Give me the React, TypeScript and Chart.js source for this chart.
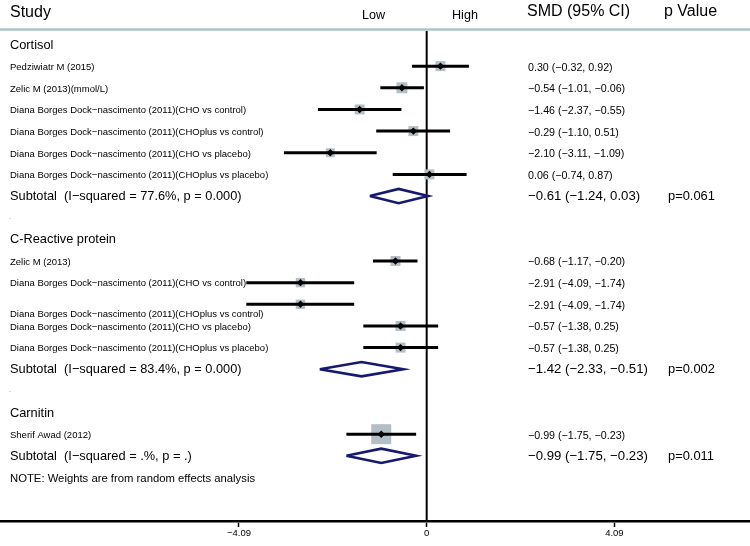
import React, { useEffect, useRef } from "react";
import { Chart, registerables } from "chart.js";

Chart.register(...registerables);

// ---------- data ----------
const groups = ["Cortisol", "C-Reactive protein", "Carnitin"];

const studies = [
  "Pedziwiatr M (2015)",
  "Zelic M (2013)(mmol/L)",
  "Diana Borges Dock\u2212nascimento (2011)(CHO vs control)",
  "Diana Borges Dock\u2212nascimento (2011)(CHOplus vs control)",
  "Diana Borges Dock\u2212nascimento (2011)(CHO vs placebo)",
  "Diana Borges Dock\u2212nascimento (2011)(CHOplus vs placebo)",
  "Zelic M (2013)",
  "Diana Borges Dock\u2212nascimento (2011)(CHO vs control)",
  "Diana Borges Dock\u2212nascimento (2011)(CHOplus vs control)",
  "Diana Borges Dock\u2212nascimento (2011)(CHO vs placebo)",
  "Diana Borges Dock\u2212nascimento (2011)(CHOplus vs placebo)",
  "Sherif Awad (2012)",
];
const studyGroup = [0, 0, 0, 0, 0, 0, 1, 1, 1, 1, 1, 2];

// plotted estimates and CIs (as drawn in the picture)
const smd = [0.3, -0.54, -1.46, -0.29, -2.1, 0.06, -0.68, -2.75, -2.75, -0.57, -0.57, -0.99];
const ciLow = [-0.32, -1.01, -2.37, -1.1, -3.11, -0.74, -1.17, -3.93, -3.93, -1.38, -1.38, -1.75];
const ciHigh = [0.92, -0.06, -0.55, 0.51, -1.09, 0.87, -0.2, -1.58, -1.58, 0.25, 0.25, -0.23];
// relative weights (box area)
const boxWeight = [25, 30, 25, 25, 20, 25, 25, 22, 22, 25, 25, 100];

const smdLabels = [
  "0.30 (\u22120.32, 0.92)",
  "\u22120.54 (\u22121.01, \u22120.06)",
  "\u22121.46 (\u22122.37, \u22120.55)",
  "\u22120.29 (\u22121.10, 0.51)",
  "\u22122.10 (\u22123.11, \u22121.09)",
  "0.06 (\u22120.74, 0.87)",
  "\u22120.68 (\u22121.17, \u22120.20)",
  "\u22122.91 (\u22124.09, \u22121.74)",
  "\u22122.91 (\u22124.09, \u22121.74)",
  "\u22120.57 (\u22121.38, 0.25)",
  "\u22120.57 (\u22121.38, 0.25)",
  "\u22120.99 (\u22121.75, \u22120.23)",
];

const subtotalText = [
  "Subtotal  (I\u2212squared = 77.6%, p = 0.000)",
  "Subtotal  (I\u2212squared = 83.4%, p = 0.000)",
  "Subtotal  (I\u2212squared = .%, p = .)",
];
const subEst = [-0.61, -1.42, -0.99];
const subLow = [-1.24, -2.33, -1.75];
const subHigh = [0.03, -0.51, -0.23];
const subLabels = [
  "\u22120.61 (\u22121.24, 0.03)",
  "\u22121.42 (\u22122.33, \u22120.51)",
  "\u22120.99 (\u22121.75, \u22120.23)",
];
const pValues = ["p=0.061", "p=0.002", "p=0.011"];

const xTicks = [-4.09, 0, 4.09];
const xTickLabels = ["\u22124.09", "0", "4.09"];

const noteText = "NOTE: Weights are from random effects analysis";

// ---------- layout of rows ----------
const studyRows: number[] = [];
const groupRows: number[] = [];
const subtotalRows: number[] = [];
const spacerRows: number[] = [];
{
  let r = 0;
  groups.forEach((_, gi) => {
    groupRows.push(r);
    r++;
    studyGroup.forEach((sg, si) => {
      if (sg === gi) {
        studyRows[si] = r;
        r++;
      }
    });
    subtotalRows.push(r);
    r++;
    spacerRows.push(r);
    r++;
  });
}

const FONT = "'Liberation Sans', Arial, Helvetica, sans-serif";
const BOX_COLOR = "#b3bfc4";
const NAVY = "#17196f";
const DIAMOND_HALF = 0.33; // in row units

export default function App() {
  const ref = useRef<HTMLCanvasElement | null>(null);

  useEffect(() => {
    const canvas = ref.current;
    if (!canvas) return;

    const datasets: any[] = [];

    // markers (on top)
    datasets.push({
      label: "markers",
      data: smd.map((v, i) => ({ x: v, y: studyRows[i] })),
      pointStyle: "rectRot",
      pointRadius: 3.7,
      backgroundColor: "#000",
      borderWidth: 0,
      order: 1,
    });

    // CI lines
    smd.forEach((_, i) => {
      datasets.push({
        label: "ci" + i,
        data: [
          { x: ciLow[i], y: studyRows[i] },
          { x: ciHigh[i], y: studyRows[i] },
        ],
        showLine: true,
        borderColor: "#000",
        borderWidth: 3,
        pointRadius: 0,
        order: 2,
      });
    });

    // weight boxes
    datasets.push({
      label: "boxes",
      data: smd.map((v, i) => ({ x: v, y: studyRows[i] })),
      pointStyle: "rect",
      pointRadius: boxWeight.map((w) => (20 * Math.sqrt(w / 100)) / Math.SQRT2),
      backgroundColor: BOX_COLOR,
      borderWidth: 0,
      order: 3,
    });

    // subtotal diamonds
    subEst.forEach((e, gi) => {
      const r = subtotalRows[gi];
      datasets.push({
        label: "diamond" + gi,
        data: [
          { x: subLow[gi], y: r },
          { x: e, y: r - DIAMOND_HALF },
          { x: subHigh[gi], y: r },
          { x: e, y: r + DIAMOND_HALF },
          { x: subLow[gi], y: r },
        ],
        showLine: true,
        borderColor: NAVY,
        borderWidth: 2.6,
        borderJoinStyle: "miter",
        pointRadius: 0,
        fill: false,
        tension: 0,
        order: 2,
      });
    });

    const textPlugin = {
      id: "forestText",
      beforeDatasetsDraw(chart: any) {
        const ctx = chart.ctx;
        const xs = chart.scales.x;
        const area = chart.chartArea;
        ctx.save();
        // header separator
        ctx.strokeStyle = "#adc4c5";
        ctx.lineWidth = 2.6;
        ctx.beginPath();
        ctx.moveTo(0, 29.5);
        ctx.lineTo(chart.width, 29.5);
        ctx.stroke();
        // zero line
        const x0 = xs.getPixelForValue(0);
        ctx.strokeStyle = "#000";
        ctx.lineWidth = 2;
        ctx.beginPath();
        ctx.moveTo(x0, 31);
        ctx.lineTo(x0, area.bottom);
        ctx.stroke();
        ctx.restore();
      },
      afterDraw(chart: any) {
        const ctx = chart.ctx;
        const ys = chart.scales.y;
        ctx.save();
        ctx.fillStyle = "#000";
        ctx.textAlign = "left";

        // headers
        ctx.textBaseline = "alphabetic";
        ctx.font = `16px ${FONT}`;
        ctx.fillText("Study", 10, 17);
        ctx.fillText("SMD (95% CI)", 527, 16);
        ctx.fillText("p Value", 664, 16);
        ctx.font = `12.6px ${FONT}`;
        ctx.fillText("Low", 362, 19);
        ctx.fillText("High", 452, 19);

        ctx.textBaseline = "middle";
        // group titles
        ctx.font = `12.8px ${FONT}`;
        groups.forEach((g, gi) => {
          ctx.fillText(g, 10, ys.getPixelForValue(groupRows[gi]) + 0.5);
        });

        // study labels
        ctx.font = `9.5px ${FONT}`;
        studies.forEach((s, i) => {
          let y = ys.getPixelForValue(studyRows[i]) + 1.2;
          if (i === 8) y += 8.5; // label sits below its line in the original
          ctx.fillText(s, 10, y);
        });

        // SMD labels
        ctx.font = `10.7px ${FONT}`;
        smdLabels.forEach((s, i) => {
          ctx.fillText(s, 528, ys.getPixelForValue(studyRows[i]) + 1.5);
        });

        // subtotals
        subtotalText.forEach((s, gi) => {
          const y = ys.getPixelForValue(subtotalRows[gi]) + 0.5;
          ctx.font = `12.8px ${FONT}`;
          ctx.fillText(s, 10, y);
          ctx.font = `13.2px ${FONT}`;
          ctx.fillText(subLabels[gi], 528, y);
          ctx.font = `12.9px ${FONT}`;
          ctx.fillText(pValues[gi], 668, y);
        });

        // spacer dots
        ctx.fillStyle = "#888";
        ctx.font = `8px ${FONT}`;
        spacerRows.slice(0, -1).forEach((r) => {
          ctx.fillText(".", 9, ys.getPixelForValue(r) - 1);
        });

        // note
        ctx.fillStyle = "#000";
        ctx.font = `11.3px ${FONT}`;
        ctx.fillText(noteText, 10, ys.getPixelForValue(spacerRows[spacerRows.length - 1] + 0.08));
        ctx.restore();
      },
    };

    const chart = new Chart(canvas, {
      type: "scatter",
      data: { datasets },
      options: {
        animation: false,
        responsive: false,
        devicePixelRatio: 1,
        layout: { padding: 0, autoPadding: false },
        plugins: {
          legend: { display: false },
          tooltip: { enabled: false },
          title: { display: false },
        },
        scales: {
          x: {
            type: "linear",
            position: "bottom",
            min: -9.296,
            max: 7.044,
            afterBuildTicks: (s: any) => {
              s.ticks = xTicks.map((v) => ({ value: v }));
            },
            afterFit: (s: any) => {
              s.height = 25;
            },
            grid: {
              drawOnChartArea: false,
              drawTicks: true,
              tickLength: 6,
              tickColor: "#000",
              tickWidth: 1.5,
            },
            border: { display: true, color: "#000", width: 2.6 },
            ticks: {
              autoSkip: false,
              maxRotation: 0,
              minRotation: 0,
              padding: 1,
              color: "#000",
              font: { family: FONT, size: 9.5 },
              callback: (_v: any, idx: number) => xTickLabels[idx],
            },
          },
          y: {
            type: "linear",
            display: false,
            reverse: true,
            min: -2.055,
            max: 22.01,
          },
        },
      } as any,
      plugins: [textPlugin],
    });

    return () => chart.destroy();
  }, []);

  return (
    <div style={{ position: "absolute", left: 0, top: 0, width: 750, height: 546, background: "#fff" }}>
      <canvas ref={ref} width={750} height={546} style={{ display: "block", width: 750, height: 546 }} />
    </div>
  );
}
